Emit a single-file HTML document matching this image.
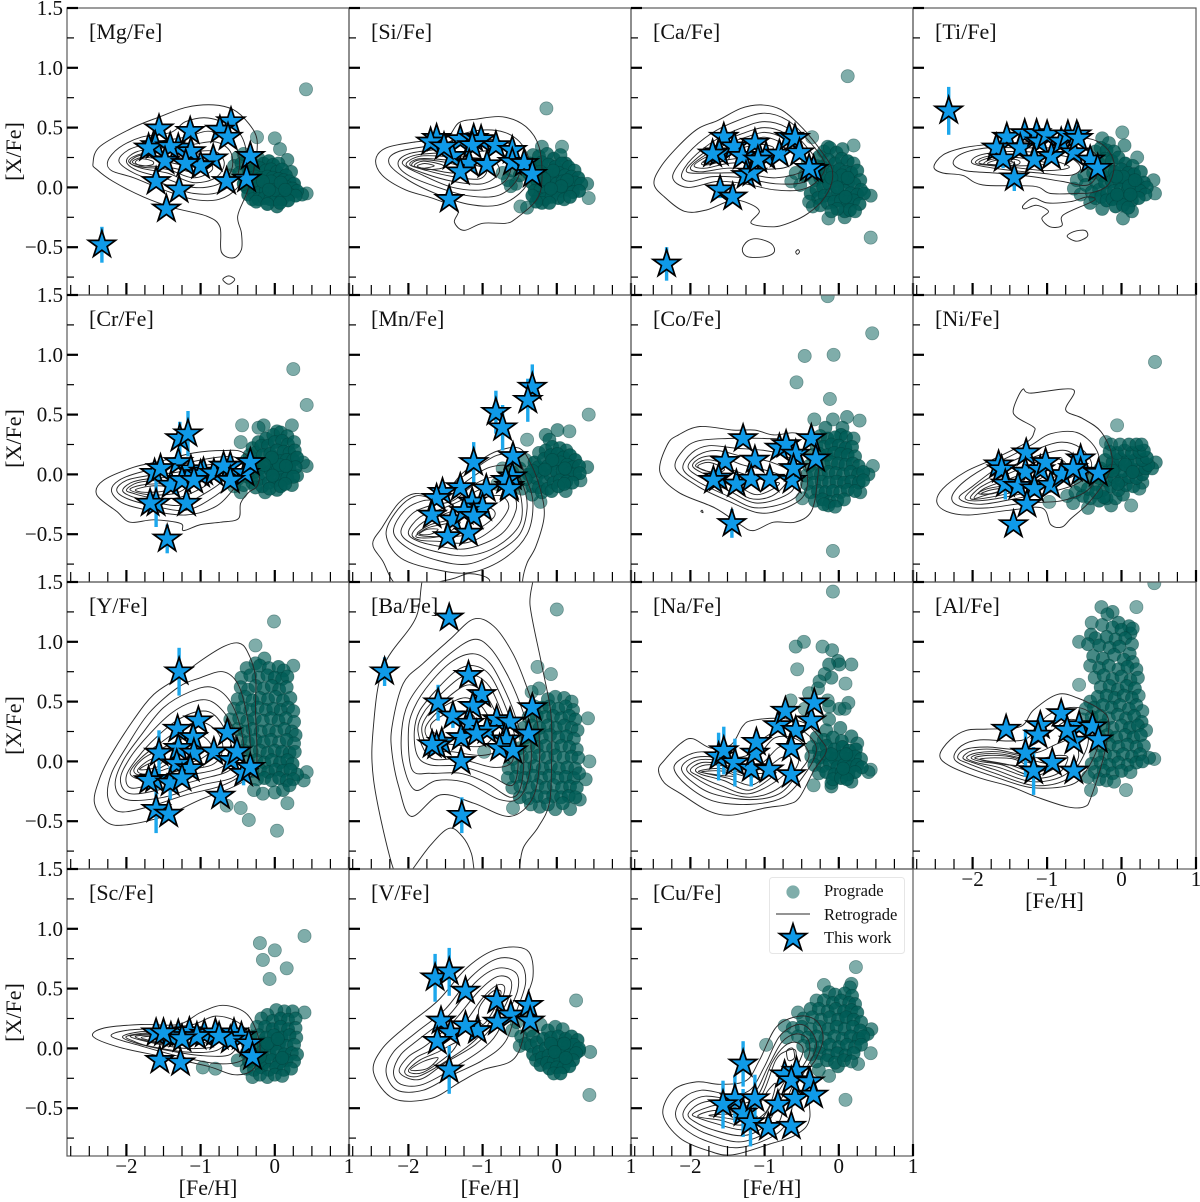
<!DOCTYPE html>
<html lang="en">
<head>
<meta charset="utf-8">
<title>Abundance ratios versus metallicity</title>
<style>
html,body{margin:0;padding:0;background:#fff;}
svg{display:block;font-family:"Liberation Serif",serif;}
</style>
</head>
<body>
<svg id="chart" xmlns="http://www.w3.org/2000/svg" width="1200" height="1202" viewBox="0 0 1200 1202">
<rect x="0" y="0" width="1200" height="1202" fill="#fff"/>
<defs id="defs"></defs>
</svg>
<script>
const xMajorTicks=[-2,-1,0,1];
const xMinorTicks=[-2.75,-2.5,-2.25,-1.75,-1.5,-1.25,-.75,-.5,-.25,.25,.5,.75];
const xTickLabels=["\u22122","\u22121","0","1"];
const yMajorTicks=[1.5,1,.5,0,-.5];
const yMinorTicks=[1.25,.75,.25,-.25,-.75];
const yTickLabels=["1.5","1.0","0.5","0.0","\u22120.5"];

const mgStars=[[-2.33,-.48,.15],[-1.56,.49,.04],[-1.14,.47,.05],[-.59,.55,.05],[-.74,.48,.05],[-.63,.42,.05],[-1.61,.35,.05],[-1.7,.33,.04],[-1.3,.33,.05],[-1.41,.34,.04],[-1.13,.3,.05],[-1.48,.22,.04],[-.83,.24,.05],[-1,.18,.05],[-.33,.26,.05],[-.38,.07,.05],[-.65,.05,.05],[-1.6,.05,.05],[-1.29,-.02,.05],[-1.46,-.18,.05],[-1.2,.2,.05]];
const mgPoints=[[.42,.82],[0,.41],[-.24,.42],[.07,.32],[.17,.23],[.22,.13],[.43,-.05],[.37,-.06],[.03,-.16],[-.3,.2],[-.22,.24],[-.15,.2],[-.08,.22],[-.02,.19],[.05,.2],[-.35,.13],[-.28,.15],[-.2,.16],[-.12,.14],[-.05,.15],[.03,.13],[.1,.15],[.15,.1],[-.4,.06],[-.33,.08],[-.26,.09],[-.18,.08],[-.1,.09],[-.03,.08],[.05,.07],[.12,.06],[.2,.05],[.26,.03],[-.38,0],[-.3,.02],[-.22,.03],[-.14,.02],[-.06,.03],[.02,.01],[.09,.02],[.17,0],[.24,-.01],[.3,-.03],[-.36,-.06],[-.28,-.05],[-.2,-.04],[-.12,-.03],[-.04,-.04],[.04,-.05],[.12,-.04],[.2,-.06],[.28,-.07],[-.3,-.1],[-.22,-.1],[-.14,-.09],[-.06,-.1],[.02,-.1],[.1,-.1],[.18,-.11],[-.25,-.12],[-.1,-.14],[.07,-.13],[-.5,.25],[-.55,.18],[-.6,.1],[-.45,.2],[-.42,.28],[-.48,.12],[-.42,.03],[-.05,.05],[0,-.02],[-.16,.05],[.08,.04],[-.08,-.02],[.14,-.02]];
const mgLoops=[
[[-2.45,.2],[-2.36,.34],[-1.91,.5],[-1.55,.59],[-1.19,.67],[-.83,.69],[-.56,.65],[-.36,.54],[-.24,.4],[-.27,.18],[-.38,-.05],[-.5,-.24],[-.45,-.38],[-.45,-.52],[-.56,-.59],[-.72,-.54],[-.74,-.33],[-.92,-.24],[-1.37,-.17],[-1.77,-.08],[-2.18,.05],[-2.4,.15]],
[[-.7,-.77],[-.62,-.74],[-.54,-.77],[-.62,-.81]],
[[-2.25,.22],[-2.1,.33],[-1.8,.42],[-1.4,.46],[-1.2,.55],[-.9,.58],[-.55,.5],[-.4,.35],[-.4,.15],[-.5,0],[-.75,-.1],[-1.1,-.1],[-1.5,-.02],[-1.9,.08],[-2.2,.14]],
[[-2.1,.22],[-1.95,.32],[-1.6,.38],[-1.2,.42],[-.9,.47],[-.6,.42],[-.48,.25],[-.52,.08],[-.75,-.04],[-1.1,-.05],[-1.5,.03],[-1.9,.12]],
[[-2,.22],[-1.85,.3],[-1.5,.33],[-1.1,.36],[-.8,.38],[-.6,.3],[-.58,.15],[-.75,.03],[-1.1,0],[-1.5,.08],[-1.85,.14]],
[[-1.97,.22],[-1.8,.28],[-1.45,.29],[-1.1,.3],[-.8,.3],[-.68,.2],[-.8,.08],[-1.1,.04],[-1.45,.12],[-1.8,.16]],
[[-1.95,.21],[-1.8,.27],[-1.5,.26],[-1.15,.24],[-.9,.22],[-.85,.14],[-1.1,.08],[-1.45,.15],[-1.8,.17]],
[[-1.92,.21],[-1.8,.25],[-1.6,.24],[-1.35,.2],[-1.1,.17],[-1.05,.12],[-1.45,.17],[-1.75,.18]],
[[-1.88,.21],[-1.8,.24],[-1.65,.22],[-1.65,.19],[-1.8,.18]]];

const siStars=[[-1.62,.41,.04],[-1.7,.38,.04],[-1.3,.4,.04],[-1.12,.41,.04],[-1.02,.4,.04],[-1.14,.35,.04],[-.82,.35,.04],[-1.41,.26,.04],[-.6,.31,.04],[-.6,.21,.04],[-1.18,.2,.04],[-.94,.19,.04],[-1.3,.13,.04],[-.44,.2,.04],[-.33,.11,.04],[-1.45,-.1,.04],[-1.52,.34,.04]];
const siPoints=[[-.14,.66],[.07,.34],[-.2,.34],[.43,-.09],[.41,.03],[-.49,-.16],[-.4,-.17],[-.73,.12],[-.66,.06],[-.6,.14],[-.55,.03],[-.5,.1],[-.62,.01],[-.44,.17],[-.32,.27],[-.24,.26],[-.13,.28],[-.04,.24],[.05,.27],[.12,.2],[-.36,.2],[-.28,.18],[-.2,.21],[-.11,.19],[-.02,.17],[.07,.2],[.16,.17],[.24,.14],[-.38,.12],[-.3,.1],[-.22,.13],[-.14,.11],[-.05,.1],[.03,.12],[.11,.1],[.2,.09],[.29,.08],[-.34,.04],[-.26,.05],[-.18,.03],[-.09,.05],[0,.03],[.08,.05],[.16,.02],[.25,.04],[.33,.03],[-.3,-.03],[-.22,-.02],[-.13,-.04],[-.04,-.02],[.05,-.03],[.13,-.02],[.22,-.04],[.3,-.03],[-.25,-.09],[-.16,-.1],[-.07,-.08],[.02,-.09],[.1,-.1],[.18,-.08],[-.2,-.13],[-.1,-.13],[-.28,-.12],[-.33,-.07],[-.05,.14],[.14,.06],[-.17,.07],[.06,.01],[-.08,-.01]];
const siLoops=[
[[-2.44,.23],[-2.3,.33],[-1.9,.38],[-1.5,.41],[-1.32,.54],[-1.09,.57],[-.73,.59],[-.42,.51],[-.24,.34],[-.2,.06],[-.28,-.11],[-.55,-.26],[-.69,-.3],[-1,-.3],[-1.25,-.36],[-1.38,-.29],[-1.34,-.18],[-1.68,-.09],[-2.04,-.02],[-2.35,.1]],
[[-2.26,.2],[-2.13,.3],[-1.5,.37],[-1.3,.44],[-1,.48],[-.7,.46],[-.5,.38],[-.38,.25],[-.35,.1],[-.5,-.05],[-.8,-.15],[-1.2,-.14],[-1.6,-.06],[-2,.06]],
[[-2.14,.2],[-2,.28],[-1.6,.32],[-1.2,.36],[-.9,.4],[-.6,.35],[-.5,.2],[-.55,.05],[-.8,-.07],[-1.2,-.07],[-1.6,0],[-2,.1]],
[[-2.08,.2],[-1.9,.27],[-1.5,.29],[-1.1,.3],[-.8,.3],[-.62,.2],[-.7,.05],[-1,-.02],[-1.4,0],[-1.8,.1]],
[[-2.03,.19],[-1.85,.26],[-1.5,.26],[-1.15,.25],[-.85,.22],[-.78,.12],[-1,.03],[-1.4,.05],[-1.8,.12]],
[[-1.98,.19],[-1.85,.24],[-1.5,.23],[-1.2,.2],[-.95,.15],[-1.05,.07],[-1.4,.09],[-1.75,.14]],
[[-1.95,.18],[-1.85,.23],[-1.5,.21],[-1.2,.15],[-1.4,.12],[-1.7,.15]],
[[-1.92,.18],[-1.8,.22],[-1.55,.19],[-1.55,.16],[-1.75,.15]],
[[-1.88,.18],[-1.78,.2],[-1.65,.18],[-1.8,.16]]];

const caStars=[[-2.32,-.64,.14],[-1.55,.42,.04],[-1.61,.29,.04],[-1.7,.28,.04],[-1.41,.34,.04],[-1.3,.26,.04],[-1.13,.37,.04],[-.98,.26,.04],[-.8,.28,.04],[-.67,.42,.04],[-.59,.41,.04],[-.53,.29,.04],[-1.25,.1,.04],[-1.17,.12,.04],[-1.09,.23,.04],[-.34,.15,.04],[-.4,.16,.04],[-1.6,-.02,.07],[-1.43,-.08,.04]];
const caPoints=[[.12,.93],[.2,.35],[-.36,.42],[.43,-.42],[-.14,-.26],[.08,-.25],[.43,-.07],[-.15,.34],[-.64,.05],[-.58,.12],[-.52,.02],[-.46,.1],[-.42,.2],[-.38,-.05],[-.32,.06],[-.3,.18],[-.26,.26],[-.2,.3],[-.12,.33],[-.03,.29],[.05,.32],[-.22,.17],[-.14,.23],[-.05,.2],[.04,.24],[.12,.22],[.2,.2],[-.25,.08],[-.17,.11],[-.08,.13],[.01,.15],[.09,.13],[.17,.12],[.25,.14],[.29,.06],[-.3,-.02],[-.21,0],[-.13,.03],[-.04,.05],[.05,.06],[.13,.04],[.21,.03],[.3,-.02],[-.28,-.09],[-.19,-.07],[-.1,-.06],[-.01,-.04],[.08,-.03],[.16,-.05],[.25,-.06],[.34,-.05],[-.4,-.12],[-.35,-.16],[-.25,-.15],[-.15,-.13],[-.06,-.12],[.03,-.11],[.12,-.12],[.2,-.11],[.28,-.14],[.08,-.2],[.15,-.19],[.22,-.2],[-.02,-.18],[-.1,-.2],[.04,.1],[-.1,.08],[.12,.08],[-.02,0],[.09,-.08]];
const caLoops=[
[[-2.49,.03],[-2.4,.17],[-2.17,.34],[-1.9,.49],[-1.63,.56],[-1.32,.66],[-1.05,.69],[-.78,.65],[-.51,.51],[-.28,.34],[-.1,.17],[-.1,.03],[-.22,-.11],[-.42,-.22],[-.64,-.29],[-.87,-.33],[-1.18,-.3],[-1.07,-.2],[-1.23,-.13],[-1.45,-.11],[-1.79,-.19],[-2.08,-.2],[-2.35,-.08]],
[[-1.3,-.52],[-1.23,-.45],[-1.09,-.43],[-.91,-.47],[-.87,-.54],[-1,-.58],[-1.23,-.58]],
[[-.58,-.54],[-.55,-.52],[-.53,-.54],[-.56,-.56]],
[[-2.24,.09],[-2.04,.28],[-1.72,.45],[-1.36,.56],[-1,.62],[-.69,.56],[-.42,.4],[-.19,.2],[-.28,.06],[-.51,-.02],[-.87,-.02],[-1.27,.03],[-1.63,.05],[-2.04,0]],
[[-2.12,.1],[-1.98,.24],[-1.65,.4],[-1.3,.5],[-1,.55],[-.7,.5],[-.45,.35],[-.3,.2],[-.45,.05],[-.85,.03],[-1.3,.08],[-1.7,.09],[-2,.05]],
[[-2.05,.13],[-1.9,.25],[-1.6,.37],[-1.3,.45],[-1,.5],[-.72,.45],[-.5,.3],[-.45,.15],[-.85,.08],[-1.3,.12],[-1.7,.12]],
[[-2,.16],[-1.85,.25],[-1.55,.35],[-1.25,.42],[-1,.46],[-.75,.41],[-.55,.28],[-.7,.17],[-1.1,.15],[-1.5,.16],[-1.85,.13]],
[[-1.95,.18],[-1.8,.25],[-1.5,.33],[-1.2,.39],[-1,.42],[-.78,.37],[-.75,.28],[-1.1,.22],[-1.5,.2],[-1.8,.16]],
[[-1.85,.2],[-1.7,.26],[-1.4,.31],[-1.1,.36],[-.88,.33],[-1.1,.27],[-1.5,.23],[-1.75,.19]],
[[-1.82,.21],[-1.7,.24],[-1.5,.27],[-1.5,.23],[-1.72,.2]]];

const tiStars=[[-2.32,.64,.2],[-1.54,.42,.04],[-1.68,.33,.04],[-1.59,.24,.08],[-1.3,.45,.04],[-1.36,.33,.04],[-1.14,.45,.04],[-1.1,.38,.04],[-1,.44,.04],[-1.17,.23,.04],[-.94,.26,.04],[-.81,.38,.04],[-.64,.29,.04],[-.72,.44,.04],[-.6,.44,.04],[-.58,.41,.04],[-.42,.23,.04],[-.32,.16,.04],[-1.44,.08,.11]];
const tiPoints=[[.01,.46],[.04,.35],[-.26,.41],[-.17,.37],[.21,.25],[.43,.06],[.45,-.05],[.02,-.26],[-.26,-.18],[-.42,-.13],[.14,-.2],[-.64,-.01],[-.6,.06],[-.55,-.06],[-.5,.1],[-.48,.02],[-.42,.2],[-.35,.3],[-.28,.33],[-.2,.31],[-.1,.3],[-.38,.12],[-.3,.2],[-.22,.24],[-.13,.22],[-.04,.25],[.05,.2],[.15,.18],[-.34,.04],[-.26,.1],[-.18,.14],[-.09,.13],[0,.15],[.09,.12],[.17,.11],[.26,.13],[-.4,-.04],[-.3,-.02],[-.22,.04],[-.13,.05],[-.04,.06],[.05,.04],[.13,.05],[.22,.03],[.3,.04],[.34,0],[-.35,-.09],[-.27,-.08],[-.19,-.05],[-.1,-.03],[-.01,-.02],[.08,-.03],[.16,-.04],[.25,-.03],[.32,-.06],[-.2,-.11],[-.12,-.1],[-.03,-.09],[.06,-.1],[.14,-.11],[.23,-.09],[-.08,-.16],[.02,-.15],[.09,-.17],[.02,.09],[-.07,.09],[.1,.01],[-.06,-.06],[.12,-.06],[.18,.06]];
const tiLoops=[
[[-2.52,.17],[-2.4,.27],[-2.13,.33],[-1.77,.36],[-1.3,.38],[-.9,.4],[-.46,.41],[-.22,.34],[-.1,.2],[-.17,.03],[-.37,-.04],[-.6,-.05],[-.96,-.05],[-1.18,.01],[-1.86,.02],[-2.13,.1],[-2.4,.12]],
[[-1.32,-.15],[-1.18,-.09],[-1,-.13],[-.69,-.12],[-.46,-.08],[-.37,-.11],[-.78,-.23],[-.8,-.32],[-.96,-.33],[-1.07,-.26],[-.98,-.2],[-1.14,-.15],[-1.3,-.18]],
[[-.73,-.41],[-.64,-.37],[-.49,-.36],[-.46,-.41],[-.6,-.45]],
[[-2.26,.2],[-2.15,.28],[-1.8,.33],[-1.3,.33],[-.9,.33],[-.55,.33],[-.35,.28],[-.3,.15],[-.45,.02],[-.8,.05],[-1.2,.09],[-1.7,.12],[-2.1,.14]],
[[-2,.2],[-1.9,.27],[-1.5,.3],[-1.1,.29],[-.7,.25],[-.55,.16],[-.7,.1],[-1.1,.12],[-1.6,.15]],
[[-1.95,.2],[-1.8,.26],[-1.4,.27],[-1,.24],[-.7,.17],[-1,.14],[-1.5,.17]],
[[-1.9,.2],[-1.75,.25],[-1.4,.25],[-1,.2],[-1.4,.18]],
[[-1.85,.2],[-1.7,.24],[-1.4,.23],[-1.4,.19],[-1.7,.18]],
[[-1.8,.2],[-1.65,.23],[-1.45,.21],[-1.65,.19]]];

const crStars=[[-1.28,.3,.14],[-1.17,.34,.19],[-1.3,.1,.05],[-1.62,.01,.05],[-1.54,.05,.05],[-1.13,.04,.05],[-1.4,-.09,.05],[-1.25,-.05,.05],[-.96,.02,.05],[-1,0,.05],[-.82,.01,.05],[-.6,.07,.05],[-.69,.07,.05],[-.4,.01,.05],[-.33,.1,.05],[-.6,-.05,.05],[-1.6,-.24,.2],[-1.68,-.24,.05],[-1.19,-.24,.05],[-1.45,-.54,.12],[-1.09,-.05,.05]];
const crPoints=[[.25,.88],[.43,.58],[-.44,.41],[-.15,.41],[-.22,.39],[.23,.41],[-.46,.27],[.43,.07],[.38,.1],[.3,-.01],[.23,-.09],[-.13,-.15],[.03,-.13],[-.46,-.15],[.03,.36],[-.55,-.1],[-.5,-.04],[-.42,-.09],[-.38,.12],[-.3,.22],[-.22,.27],[-.12,.3],[-.02,.33],[.08,.35],[.17,.32],[-.34,.16],[-.26,.18],[-.18,.24],[-.09,.24],[0,.27],[.1,.28],[.18,.25],[.26,.27],[-.33,.06],[-.25,.1],[-.16,.16],[-.06,.17],[.03,.2],[.12,.19],[.2,.18],[.27,.2],[-.36,-.02],[-.27,.02],[-.2,.05],[-.1,.09],[-.01,.12],[.08,.11],[.16,.12],[.25,.12],[.3,.14],[-.3,-.07],[-.22,-.04],[-.13,0],[-.05,.03],[.04,.04],[.12,.03],[.2,.05],[.28,.06],[-.26,-.11],[-.17,-.1],[-.08,-.07],[0,-.05],[.09,-.05],[.17,-.03],[.25,-.02],[-.07,-.12],[.08,-.1],[.14,-.08],[.06,.08],[-.04,.14],[.15,.07],[-.14,.08],[-.03,-.01]];
const crLoops=[
[[-2.4,-.17],[-2.31,-.05],[-1.9,.06],[-1.54,.11],[-1.09,.18],[-.69,.2],[-.42,.18],[-.22,.01],[-.24,-.1],[-.35,-.15],[-.46,-.24],[-.49,-.37],[-.73,-.4],[-1,-.42],[-1.23,-.47],[-1.27,-.41],[-1.63,-.38],[-1.95,-.4],[-2.13,-.31]],
[[-2.2,-.14],[-2.1,-.05],[-1.8,.02],[-1.4,.06],[-1,.12],[-.6,.15],[-.45,.1],[-.4,0],[-.55,-.12],[-.8,-.27],[-1.2,-.34],[-1.7,-.3],[-2.05,-.24]],
[[-2.13,-.13],[-2,-.05],[-1.7,-.01],[-1.3,.02],[-.9,.08],[-.6,.08],[-.55,-.03],[-.8,-.18],[-1.2,-.3],[-1.65,-.26],[-2,-.2]],
[[-2.05,-.13],[-1.9,-.06],[-1.6,-.03],[-1.2,-.02],[-.8,.03],[-.7,-.05],[-1,-.18],[-1.3,-.26],[-1.7,-.22],[-1.95,-.18]],
[[-2,-.13],[-1.85,-.07],[-1.55,-.05],[-1.2,-.06],[-.9,-.07],[-1.1,-.15],[-1.35,-.2],[-1.7,-.19],[-1.9,-.16]],
[[-1.95,-.13],[-1.8,-.09],[-1.5,-.08],[-1.2,-.1],[-1.35,-.16],[-1.7,-.17]],
[[-1.88,-.13],[-1.7,-.1],[-1.5,-.1],[-1.5,-.14],[-1.75,-.15]]];

const mnStars=[[-.33,.73,.19],[-.39,.62,.18],[-.82,.52,.18],[-.73,.39,.19],[-.59,.15,.1],[-1.12,.1,.17],[-.64,-.1,.05],[-.6,-.02,.05],[-.69,-.05,.05],[-1.3,-.11,.05],[-.95,-.12,.05],[-1.54,-.15,.05],[-1.62,-.2,.05],[-1.14,-.23,.05],[-1,-.28,.05],[-1.68,-.34,.05],[-1.4,-.38,.05],[-1.25,-.31,.05],[-1.12,-.35,.05],[-1.47,-.52,.05],[-1.19,-.49,.05],[-.64,-.12,.05]];
const mnPoints=[[.43,.5],[.01,.37],[.17,.36],[-.15,.33],[-.1,.29],[-.4,.29],[.41,.06],[.32,-.05],[.12,-.14],[-.22,-.23],[-.33,-.17],[-.73,.05],[-.8,-.08],[-.6,.02],[-.55,-.08],[-.5,.05],[-.47,-.12],[-.42,.12],[-.38,0],[-.33,-.1],[-.3,.1],[-.24,.18],[-.15,.2],[-.06,.23],[.04,.22],[.13,.2],[-.25,.06],[-.17,.13],[-.08,.16],[.01,.17],[.09,.14],[.18,.16],[.25,.12],[-.28,-.03],[-.2,.02],[-.12,.07],[-.03,.09],[.05,.1],[.14,.08],[.22,.06],[.3,.07],[-.24,-.11],[-.16,-.06],[-.08,-.01],[0,.02],[.08,.03],[.17,.01],[.25,0],[.31,.01],[-.2,-.15],[-.12,-.12],[-.04,-.07],[.04,-.05],[.13,-.06],[.21,-.07],[-.07,-.14],[.02,-.1],[.1,-.08],[-.33,.03],[-.42,-.04],[-.06,.12],[.11,.05],[-.16,.04]];
const mnLoops=[
[[-2.48,-.58],[-2.35,-.44],[-2.13,-.24],[-1.9,-.16],[-1.59,-.2],[-1.45,-.12],[-1.27,.01],[-1,.13],[-.78,.2],[-.51,.22],[-.35,.09],[-.22,-.13],[-.17,-.35],[-.28,-.6],[-.4,-.74],[-.46,-.88],[-.46,-1.02],[-.96,-1.02],[-.91,-.88],[-1.18,-.83],[-1.45,-.88],[-2.1,-.94],[-2.35,-.72]],
[[-2.3,-.5],[-2.15,-.3],[-1.9,-.18],[-1.6,-.2],[-1.4,-.08],[-1.1,.05],[-.8,.16],[-.55,.15],[-.4,-.05],[-.32,-.25],[-.4,-.5],[-.7,-.7],[-1.15,-.82],[-1.6,-.8],[-2.1,-.7]],
[[-2.2,-.48],[-2.05,-.3],[-1.8,-.22],[-1.5,-.2],[-1.2,-.05],[-.9,.06],[-.6,.06],[-.45,-.1],[-.4,-.28],[-.5,-.5],[-.8,-.65],[-1.2,-.75],[-1.6,-.72],[-2,-.62]],
[[-2.1,-.48],[-1.95,-.33],[-1.7,-.26],[-1.4,-.22],[-1.1,-.08],[-.85,-.02],[-.6,-.05],[-.48,-.2],[-.5,-.42],[-.8,-.6],[-1.2,-.68],[-1.6,-.65],[-1.95,-.58]],
[[-2,-.48],[-1.85,-.36],[-1.6,-.3],[-1.3,-.22],[-1.05,-.13],[-.8,-.1],[-.6,-.15],[-.55,-.3],[-.75,-.5],[-1.2,-.62],[-1.6,-.6],[-1.9,-.55]],
[[-1.95,-.5],[-1.8,-.4],[-1.55,-.34],[-1.25,-.27],[-1,-.2],[-.75,-.18],[-.65,-.28],[-.85,-.45],[-1.2,-.57],[-1.6,-.56],[-1.85,-.55]],
[[-1.88,-.5],[-1.7,-.42],[-1.45,-.38],[-1.15,-.3],[-.9,-.28],[-.85,-.36],[-1.2,-.5],[-1.6,-.52]],
[[-1.9,-.52],[-1.75,-.45],[-1.55,-.42],[-1.3,-.4],[-1.5,-.5],[-1.7,-.53]],
[[-1.85,-.5],[-1.75,-.46],[-1.6,-.46],[-1.7,-.5]]];

const coStars=[[-1.29,.3,.04],[-1.53,.11,.04],[-1.13,.12,.04],[-.8,.22,.04],[-.71,.25,.04],[-.58,.17,.04],[-.37,.3,.04],[-.31,.13,.04],[-1.62,-.03,.04],[-1.69,-.05,.04],[-1.38,-.08,.04],[-1.18,-.04,.04],[-.93,-.04,.04],[-.63,-.05,.04],[-.61,.05,.04],[-1.44,-.41,.12]];
const coPoints=[[-.15,1.49],[.45,1.18],[-.46,.99],[-.07,1],[-.57,.77],[-.12,.63],[.11,.48],[.28,.45],[-.08,.46],[-.33,.46],[-.18,.39],[.05,.39],[.03,.33],[-.08,-.64],[.46,.07],[.4,0],[.29,-.15],[-.49,-.2],[-.25,.32],[-.15,.3],[-.05,.31],[.1,.31],[.2,.3],[-.3,.24],[-.2,.23],[-.1,.25],[0,.24],[.09,.22],[.18,.23],[-.36,.16],[-.26,.17],[-.16,.16],[-.06,.18],[.03,.17],[.12,.16],[.22,.15],[-.4,.07],[-.3,.09],[-.2,.08],[-.1,.1],[-.01,.09],[.09,.08],[.19,.09],[.27,.07],[-.44,-.01],[-.34,.01],[-.24,0],[-.14,.02],[-.04,.01],[.06,0],[.16,.02],[.26,0],[.33,.02],[-.43,-.08],[-.33,-.07],[-.23,-.06],[-.13,-.07],[-.03,-.06],[.07,-.07],[.17,-.06],[.27,-.07],[.33,-.05],[-.38,-.15],[-.28,-.14],[-.18,-.15],[-.08,-.14],[.02,-.15],[.12,-.13],[.22,-.14],[-.32,-.22],[-.22,-.21],[-.12,-.23],[-.02,-.22],[.07,-.21],[-.14,-.26],[-.2,-.25],[-.05,-.27]];
const coLoops=[
[[-2.41,.02],[-2.31,.25],[-2.16,.33],[-1.87,.4],[-1.42,.37],[-1.13,.37],[-.88,.33],[-.54,.34],[-.29,.19],[-.29,-.06],[-.37,-.31],[-.59,-.4],[-.88,-.4],[-1.15,-.47],[-1.33,-.42],[-1.67,-.28],[-2.16,-.15]],
[[-1.86,-.31],[-1.84,-.3],[-1.83,-.32]],
[[-2.2,.05],[-2.1,.2],[-1.9,.28],[-1.5,.3],[-1,.3],[-.7,.28],[-.5,.15],[-.42,-.05],[-.5,-.2],[-.8,-.3],[-1.1,-.32],[-1.5,-.22],[-1.9,-.1]],
[[-2.1,.05],[-1.98,.18],[-1.75,.24],[-1.4,.22],[-1,.2],[-.7,.15],[-.5,0],[-.6,-.2],[-1.1,-.28],[-1.5,-.18],[-1.9,-.06]],
[[-2.03,.06],[-1.9,.16],[-1.65,.2],[-1.3,.15],[-.9,.1],[-.62,0],[-.65,-.15],[-1.1,-.24],[-1.5,-.13],[-1.85,-.03]],
[[-1.97,.07],[-1.85,.14],[-1.6,.15],[-1.3,.08],[-.9,.02],[-.7,-.05],[-.9,-.18],[-1.2,-.2],[-1.5,-.08],[-1.8,0]],
[[-1.93,.07],[-1.8,.12],[-1.6,.1],[-1.4,.03],[-1,-.05],[-.8,-.08],[-1.1,-.17],[-1.4,-.08],[-1.75,.02]],
[[-1.9,.07],[-1.75,.1],[-1.55,.05],[-1.6,.02],[-1.8,.03]]];

const niStars=[[-1.28,.18,.04],[-1.65,.08,.04],[-1.61,.04,.04],[-1.29,.02,.04],[-1.09,.04,.04],[-1.56,-.08,.13],[-1.39,-.1,.04],[-1.17,-.12,.04],[-.95,-.09,.04],[-.8,0,.04],[-.55,.13,.04],[-.55,.02,.04],[-.65,.05,.04],[-.31,.01,.04],[-1.02,.1,.04],[-1.27,-.25,.04],[-1.45,-.42,.04]];
const niPoints=[[.45,.94],[-.06,.41],[.13,-.26],[.46,.1],[.41,.05],[.28,-.07],[-.97,-.23],[-.65,-.24],[-.45,-.28],[-.14,-.26],[-.21,.27],[-.73,-.18],[-.62,-.15],[-.52,-.18],[-.42,-.2],[-.3,-.22],[-.2,-.2],[-.08,-.2],[.02,-.17],[-.55,-.09],[-.45,-.12],[-.35,-.08],[-.25,-.13],[-.14,-.1],[-.04,-.13],[.06,-.09],[.16,-.1],[.24,-.12],[-.4,-.02],[-.3,-.03],[-.2,-.05],[-.1,-.02],[0,-.05],[.1,-.02],[.2,-.03],[.28,0],[-.28,.05],[-.18,.03],[-.08,.06],[.02,.03],[.12,.05],[.22,.04],[.32,.05],[.36,.08],[-.22,.12],[-.12,.1],[-.02,.13],[.08,.11],[.18,.12],[.28,.12],[.34,.14],[-.16,.19],[-.06,.18],[.04,.2],[.14,.18],[.24,.19],[.3,.2],[-.14,.25],[-.02,.25],[.1,.25],[.2,.25],[.27,.25],[.05,.08],[-.05,-.08],[.15,.02],[-.12,.03],[-.24,-.19],[-.34,-.15]];
const niLoops=[
[[-2.48,-.23],[-2.4,-.12],[-2.1,.02],[-1.71,.13],[-1.27,.27],[-1.17,.36],[-1.19,.4],[-1.41,.48],[-1.45,.55],[-1.33,.71],[-1.22,.68],[-.65,.71],[-.75,.54],[-.53,.47],[-.28,.36],[-.13,.16],[-.18,-.01],[-.43,-.23],[-.68,-.37],[-.8,-.44],[-.95,-.42],[-1.07,-.28],[-1.51,-.3],[-2.05,-.34],[-2.35,-.31]],
[[-2.28,-.2],[-2.15,-.08],[-1.85,.05],[-1.5,.15],[-1.2,.25],[-.95,.34],[-.6,.35],[-.35,.22],[-.3,.05],[-.45,-.13],[-.8,-.22],[-1.3,-.24],[-1.8,-.28],[-2.15,-.27]],
[[-2.18,-.2],[-2,-.1],[-1.7,.04],[-1.4,.13],[-1.1,.22],[-.8,.27],[-.55,.22],[-.4,.08],[-.55,-.06],[-.9,-.14],[-1.4,-.2],[-1.9,-.25]],
[[-2.1,-.2],[-1.95,-.1],[-1.7,0],[-1.4,.09],[-1.05,.17],[-.75,.2],[-.6,.12],[-.62,0],[-1,-.1],[-1.4,-.17],[-1.9,-.22]],
[[-2.03,-.2],[-1.9,-.11],[-1.65,-.03],[-1.35,.05],[-1.05,.12],[-.8,.12],[-.75,.03],[-1.05,-.06],[-1.4,-.14],[-1.85,-.2]],
[[-1.98,-.2],[-1.85,-.12],[-1.6,-.06],[-1.3,.01],[-1.05,.05],[-1.05,-.02],[-1.4,-.11],[-1.8,-.17]],
[[-1.92,-.16],[-1.8,-.12],[-1.55,-.09],[-1.3,-.04],[-1.45,-.1],[-1.75,-.16]],
[[-1.88,-.16],[-1.75,-.13],[-1.6,-.12],[-1.72,-.16]]];

const yStars=[[-1.29,.75,.2],[-1.03,.34,.04],[-1.31,.27,.04],[-1.1,.2,.04],[-.64,.24,.04],[-1.3,.11,.04],[-1.56,.07,.19],[-1.09,.07,.04],[-.82,.08,.04],[-1.32,-.02,.04],[-1.14,-.06,.04],[-.59,.01,.04],[-.51,.08,.04],[-1.62,-.15,.04],[-1.7,-.16,.04],[-1.41,-.18,.14],[-1.25,-.14,.04],[-.42,-.1,.1],[-.33,-.05,.04],[-.73,-.29,.04],[-1.6,-.4,.2],[-1.43,-.44,.04]];
const yPoints=[[-.01,1.17],[-.26,.97],[.25,.8],[-.14,.86],[-.26,.82],[.17,-.35],[.03,-.58],[-.35,-.49],[-.46,-.39],[-.65,-.37],[.43,-.09],[.39,-.16],[.3,-.11],
[-.38,.78],[-.2,.8],[-.08,.78],[.05,.79],[.12,.76],[-.45,.7],[-.33,.72],[-.22,.7],[-.1,.72],[0,.7],[.1,.69],[.17,.71],[-.46,.62],[-.36,.6],[-.26,.63],[-.15,.61],[-.04,.63],[.06,.6],[.16,.62],[-.5,.52],[-.4,.54],[-.3,.51],[-.2,.53],[-.09,.52],[.01,.54],[.11,.51],[.21,.53],[-.55,.44],[-.44,.45],[-.33,.43],[-.23,.45],[-.12,.43],[-.02,.44],[.08,.43],[.18,.45],[.25,.42],[-.6,.35],[-.48,.36],[-.37,.34],[-.27,.36],[-.16,.34],[-.05,.36],[.05,.34],[.15,.36],[.26,.33],[-.62,.26],[-.5,.27],[-.4,.25],[-.3,.27],[-.19,.25],[-.08,.26],[.02,.25],[.13,.27],[.23,.25],[.28,.22],[-.46,.18],[-.36,.16],[-.26,.18],[-.15,.16],[-.05,.18],[.06,.16],[.16,.18],[.26,.15],[-.42,.09],[-.31,.08],[-.2,.09],[-.1,.07],[0,.09],[.1,.08],[.2,.07],[.27,.08],[-.36,0],[-.25,.01],[-.14,-.01],[-.04,.01],[.07,-.01],[.17,.01],[.24,-.02],[-.3,-.08],[-.2,-.07],[-.09,-.09],[.01,-.07],[.11,-.08],[.21,-.07],[-.24,-.15],[-.14,-.14],[-.04,-.16],[.06,-.14],[.16,-.16],[.25,-.15],[-.28,-.24],[-.16,-.27],[0,-.26],[.11,-.24],[.2,-.2]];
const yLoops=[
[[-2.43,-.35],[-2.37,-.16],[-2.22,.04],[-1.9,.35],[-1.63,.56],[-1.3,.7],[-1,.84],[-.69,.96],[-.49,.99],[-.37,.92],[-.26,.71],[-.26,.43],[-.24,.07],[-.28,-.1],[-.55,-.21],[-1,-.32],[-1.5,-.46],[-2,-.53],[-2.26,-.51]],
[[-2.25,-.3],[-2.2,-.1],[-2,.12],[-1.7,.4],[-1.3,.62],[-1,.7],[-.7,.75],[-.5,.65],[-.38,.4],[-.33,.1],[-.4,-.08],[-.7,-.2],[-1.2,-.28],[-1.7,-.38],[-2.1,-.42]],
[[-2.15,-.2],[-2.05,0],[-1.8,.22],[-1.5,.45],[-1.15,.58],[-.85,.62],[-.6,.5],[-.45,.25],[-.42,.02],[-.55,-.13],[-1,-.2],[-1.5,-.3],[-2,-.32]],
[[-2.08,-.15],[-1.95,.03],[-1.7,.22],[-1.4,.4],[-1.1,.5],[-.85,.5],[-.62,.35],[-.5,.1],[-.6,-.07],[-1,-.15],[-1.5,-.23],[-1.95,-.27]],
[[-2,-.12],[-1.85,.03],[-1.6,.2],[-1.3,.35],[-1,.42],[-.8,.38],[-.62,.2],[-.58,.03],[-.8,-.07],[-1.3,-.13],[-1.7,-.2],[-1.95,-.22]],
[[-1.95,-.1],[-1.8,.03],[-1.55,.15],[-1.25,.28],[-1,.33],[-.78,.25],[-.7,.1],[-.85,-.03],[-1.3,-.08],[-1.75,-.15]],
[[-1.9,-.08],[-1.78,.02],[-1.55,.1],[-1.2,.2],[-1,.22],[-.85,.12],[-1,.02],[-1.4,-.05],[-1.75,-.12]],
[[-1.85,-.08],[-1.72,0],[-1.5,.06],[-1.25,.12],[-1.35,.02],[-1.7,-.1]],
[[-1.82,-.07],[-1.7,-.02],[-1.5,.02],[-1.6,-.05]]];

const baStars=[[-1.45,1.2,.04],[-2.32,.75,.12],[-1.19,.72,.04],[-1.01,.56,.04],[-1.6,.49,.15],[-1.13,.46,.04],[-1.4,.38,.1],[-1.17,.32,.04],[-.81,.35,.04],[-.63,.33,.04],[-.33,.45,.04],[-.38,.23,.04],[-.94,.26,.04],[-1.29,.2,.04],[-1.08,.23,.04],[-1.55,.16,.04],[-1.62,.13,.04],[-1.68,.14,.04],[-.68,.18,.04],[-.77,.11,.04],[-.59,.09,.04],[-1.29,0,.04],[-1.28,-.45,.15]];
const baPoints=[[0,1.27],[-.26,.79],[-.08,.73],[-.24,.61],[-.34,.58],[.42,.36],[.44,0],[.39,-.15],[.31,-.32],[.18,-.4],[-.59,-.39],[-.98,.08],[-.02,-.4],[-.23,-.38],
[-.12,.52],[-.02,.54],[.1,.53],[.2,.5],[-.3,.46],[-.2,.45],[-.1,.46],[.02,.44],[.12,.46],[.22,.43],[-.38,.37],[-.27,.38],[-.16,.37],[-.05,.38],[.06,.36],[.17,.38],[.25,.35],[-.45,.28],[-.34,.3],[-.23,.28],[-.12,.3],[-.01,.28],[.1,.3],[.2,.28],[.28,.26],[-.42,.2],[-.31,.21],[-.2,.2],[-.09,.22],[.02,.2],[.13,.21],[.23,.19],[-.5,.11],[-.38,.13],[-.27,.12],[-.16,.13],[-.05,.11],[.06,.13],[.17,.12],[.27,.1],[-.6,.02],[-.47,.04],[-.35,.03],[-.24,.05],[-.13,.03],[-.02,.05],[.09,.03],[.2,.04],[.29,.03],[-.65,-.06],[-.53,-.05],[-.41,-.06],[-.3,-.04],[-.19,-.06],[-.08,-.04],[.03,-.06],[.14,-.05],[.25,-.06],[-.66,-.14],[-.55,-.13],[-.43,-.14],[-.32,-.12],[-.21,-.14],[-.1,-.12],[.01,-.14],[.12,-.13],[.23,-.14],[.3,-.1],[-.6,-.22],[-.49,-.21],[-.37,-.22],[-.26,-.2],[-.15,-.22],[-.04,-.2],[.07,-.22],[.18,-.21],[.27,-.22],[-.5,-.3],[-.38,-.31],[-.27,-.29],[-.16,-.3],[-.05,-.29],[.06,-.3],[.16,-.29],[.25,-.3],[-.35,-.36],[-.12,-.36],[.08,-.35]];
const baLoops=[
[[-1.73,1.62],[-1.9,1.2],[-2.33,.8],[-2.47,.3],[-2.47,-.15],[-2.25,-.8],[-2.1,-1.02],[-2,-.95],[-1.7,-.7],[-1.45,-.56],[-1.27,-.63],[-1.15,-.77],[-1.1,-.95],[-1,-1.05],[-.5,-1.05],[-.5,-.9],[-.45,-.72],[-.25,-.55],[-.1,-.35],[-.07,0],[-.08,.4],[-.2,.8],[-.36,1.3],[-.36,1.62],[-1,1.8]],
[[-2.22,.29],[-2.07,.65],[-1.8,.82],[-1.44,1.02],[-1.12,1.19],[-.85,1.13],[-.59,.9],[-.41,.63],[-.27,.35],[-.23,.04],[-.32,-.3],[-.63,-.46],[-1.12,-.35],[-1.57,-.28],[-1.96,-.46],[-2.13,-.21],[-2.22,.07]],
[[-2.09,.26],[-2,.49],[-1.75,.71],[-1.44,.9],[-1.12,1.02],[-.9,.95],[-.68,.74],[-.5,.49],[-.36,.21],[-.36,-.07],[-.5,-.3],[-.77,-.32],[-1.21,-.18],[-1.62,-.16],[-1.91,-.24],[-2.07,-.02]],
[[-2,.25],[-1.92,.45],[-1.7,.66],[-1.4,.84],[-1.12,.9],[-.9,.82],[-.72,.62],[-.56,.38],[-.45,.1],[-.48,-.2],[-.62,-.3],[-.95,-.18],[-1.3,-.1],[-1.7,-.1],[-1.95,-.07]],
[[-1.92,.25],[-1.85,.42],[-1.62,.6],[-1.35,.76],[-1.12,.8],[-.9,.72],[-.72,.5],[-.58,.25],[-.52,0],[-.6,-.2],[-.9,-.12],[-1.3,-.04],[-1.7,-.03],[-1.88,.05]],
[[-1.87,.25],[-1.78,.42],[-1.55,.57],[-1.3,.7],[-1.1,.72],[-.9,.62],[-.75,.42],[-.62,.2],[-.6,0],[-.85,-.05],[-1.3,.02],[-1.7,.03]],
[[-1.82,.27],[-1.7,.42],[-1.5,.52],[-1.25,.63],[-1.08,.62],[-.9,.5],[-.75,.28],[-.72,.12],[-1,.05],[-1.4,.08],[-1.7,.1]],
[[-1.77,.28],[-1.6,.42],[-1.4,.5],[-1.2,.53],[-1,.45],[-.85,.25],[-1,.13],[-1.4,.14],[-1.7,.18]],
[[-1.7,.3],[-1.55,.38],[-1.35,.42],[-1.15,.4],[-1.05,.25],[-1.3,.2],[-1.6,.22]]];

const naStars=[[-1.62,.04,.2],[-1.55,.09,.2],[-1.4,-.01,.2],[-1.18,-.06,.15],[-1.13,.07,.04],[-1.11,.16,.04],[-.94,-.07,.04],[-.82,.3,.04],[-.72,.42,.04],[-.58,.26,.04],[-.64,.11,.04],[-.64,-.11,.04],[-.37,.34,.04],[-.33,.49,.04]];
const naPoints=[[-.08,1.42],[-.47,1],[-.58,.96],[-.22,.96],[-.09,.93],[-.01,.84],[.17,.81],[.01,.81],[-.13,.81],[-.56,.77],[-.19,.73],[-.1,.7],[-.26,.67],[.09,.65],[-.28,.61],[-.4,.57],[-.65,.51],[-.15,.51],[.13,.49],[.01,.44],[.08,.44],[-.13,.46],[-.46,.44],[-.13,.35],[.02,.28],[-.17,.26],[.17,.21],[.25,.15],[.43,-.07],[.4,-.09],[-.34,-.2],[-.1,-.21],[-.1,-.18],[.17,-.17],
[-.3,.2],[-.2,.18],[-.08,.2],[.04,.17],[-.36,.12],[-.27,.1],[-.17,.13],[-.06,.1],[.05,.12],[.14,.09],[.23,.1],[-.37,.04],[-.26,.03],[-.16,.05],[-.05,.02],[.04,.04],[.13,.02],[.22,.04],[.3,.02],[-.33,-.03],[-.22,-.04],[-.12,-.02],[-.02,-.05],[.07,-.03],[.16,-.05],[.25,-.03],[.31,-.05],[-.27,-.1],[-.17,-.09],[-.06,-.11],[.04,-.09],[.13,-.11],[.22,-.09],[-.08,-.15],[.03,-.14],[.11,-.15],[.06,-.06],[-.1,.06],[.1,.06]];
const naLoops=[
[[-2.43,-.07],[-2.35,.01],[-2.13,.15],[-1.97,.19],[-1.72,.11],[-1.45,.14],[-1.3,.29],[-1.18,.34],[-.82,.36],[-.46,.32],[-.24,.18],[-.17,.08],[-.33,-.07],[-.53,-.3],[-.69,-.36],[-1,-.39],[-1.45,-.45],[-1.77,-.41],[-2.13,-.27],[-2.35,-.18]],
[[-2.22,-.06],[-2.1,.03],[-1.85,.08],[-1.5,.03],[-1.2,.06],[-1,.2],[-.7,.28],[-.45,.24],[-.3,.1],[-.45,-.1],[-.75,-.3],[-1.2,-.36],[-1.7,-.33],[-2.05,-.2]],
[[-2.12,-.06],[-2,.02],[-1.75,.04],[-1.4,0],[-1.1,.05],[-.85,.2],[-.55,.18],[-.4,.05],[-.55,-.1],[-.8,-.27],[-1.2,-.32],[-1.7,-.27],[-2,-.16]],
[[-2.05,-.06],[-1.9,.01],[-1.65,.01],[-1.35,-.04],[-1.05,-.02],[-.8,.12],[-.6,.1],[-.55,-.02],[-.8,-.22],[-1.2,-.3],[-1.65,-.23],[-1.95,-.13]],
[[-2,-.07],[-1.85,-.01],[-1.6,-.02],[-1.3,-.07],[-1,-.06],[-.78,.03],[-.65,.03],[-.75,-.12],[-1.2,-.27],[-1.6,-.2],[-1.9,-.12]],
[[-1.93,-.07],[-1.8,-.03],[-1.55,-.04],[-1.3,-.1],[-1,-.1],[-.85,-.1],[-1.2,-.24],[-1.55,-.16],[-1.85,-.11]],
[[-1.88,-.08],[-1.6,-.06],[-1.3,-.12],[-1.05,-.14],[-1.2,-.2],[-1.5,-.14],[-1.8,-.1]],
[[-1.85,-.09],[-1.6,-.08],[-1.4,-.12],[-1.55,-.12]]];

const alStars=[[-1.55,.27,.04],[-.81,.4,.04],[-1.09,.3,.04],[-.57,.3,.04],[-.39,.29,.04],[-1.12,.22,.04],[-.64,.17,.04],[-.31,.18,.04],[-1.29,.07,.2],[-.93,-.01,.04],[-1.18,-.08,.2],[-.64,-.08,.04],[-.73,.26,.04]];
const alPoints=[[.2,1.29],[-.27,1.29],[-.12,1.25],[-.19,1.23],[-.4,1.16],[-.04,1.16],[.1,1.13],[.12,1.07],[-.57,1],[-.41,1.06],[-.57,.64],[.06,-.24],[-.41,-.24],[.44,.02],[.37,.03],[.44,1.49],
[-.26,1.14],[-.12,1.12],[0,1.1],[.15,1.11],[-.35,1.03],[-.2,1.04],[-.08,1.02],[.05,1.03],[.14,.98],[-.45,.98],[-.3,.97],[-.16,.95],[-.03,.96],[.11,.9],[-.38,.88],[-.25,.86],[-.1,.89],[.03,.85],[.15,.83],[-.42,.8],[-.3,.78],[-.17,.8],[-.04,.77],[.08,.79],[.2,.77],[-.36,.7],[-.24,.72],[-.12,.69],[0,.71],[.12,.68],[.22,.7],[-.28,.62],[-.16,.63],[-.05,.6],[.07,.63],[.18,.61],[-.42,.5],[-.32,.54],[-.2,.55],[-.09,.53],[.03,.55],[.14,.53],[.23,.55],[-.48,.44],[-.37,.45],[-.25,.47],[-.13,.45],[-.02,.47],[.1,.44],[.2,.47],[.28,.42],[-.52,.35],[-.4,.37],[-.28,.38],[-.17,.36],[-.05,.39],[.06,.36],[.17,.38],[.27,.33],[-.36,.29],[-.24,.3],[-.12,.28],[0,.3],[.11,.28],[.22,.3],[.33,.26],[-.3,.21],[-.19,.22],[-.07,.2],[.05,.22],[.16,.2],[.26,.22],[-.28,.13],[-.16,.14],[-.04,.12],[.08,.14],[.2,.12],[.3,.13],[-.34,.05],[-.22,.06],[-.1,.04],[.02,.06],[.14,.04],[.25,.06],[-.4,-.02],[-.28,-.01],[-.16,-.03],[-.04,-.01],[.08,-.03],[.2,-.01],[.28,0],[-.36,-.09],[-.24,-.08],[-.12,-.1],[0,-.08],[.12,-.09],[-.3,-.15],[-.2,-.16],[-.45,-.13],[-.1,-.17]];
const alLoops=[
[[-2.44,.05],[-2.3,.18],[-2.08,.26],[-1.81,.27],[-1.36,.29],[-1.18,.43],[-.86,.56],[-.59,.53],[-.28,.43],[-.17,.32],[-.24,.04],[-.41,-.3],[-.5,-.38],[-.73,-.38],[-1.13,-.3],[-1.49,-.21],[-1.9,-.14],[-2.3,-.04]],
[[-2.25,.03],[-2.15,.13],[-1.9,.18],[-1.5,.17],[-1.25,.2],[-1,.38],[-.7,.45],[-.45,.42],[-.3,.28],[-.33,.1],[-.5,-.1],[-.7,-.2],[-1.2,-.22],[-1.7,-.13],[-2.1,-.04]],
[[-2.2,.03],[-2.1,.1],[-1.8,.12],[-1.4,.1],[-1.15,.15],[-.95,.25],[-.7,.35],[-.5,.3],[-.45,.15],[-.6,-.05],[-.8,-.17],[-1.2,-.2],[-1.7,-.1],[-2.05,-.02]],
[[-2.13,.03],[-2,.09],[-1.7,.1],[-1.35,.06],[-1.1,.08],[-.85,.15],[-.65,.18],[-.58,.03],[-.78,-.12],[-1.2,-.17],[-1.7,-.07],[-2,-.01]],
[[-2.08,.03],[-1.95,.07],[-1.65,.08],[-1.3,.04],[-1.05,.03],[-.85,.05],[-.72,.03],[-.85,-.1],[-1.2,-.14],[-1.65,-.05],[-1.95,-.01]],
[[-2.02,.03],[-1.9,.06],[-1.6,.06],[-1.3,.02],[-1,-.02],[-.88,-.05],[-1.2,-.12],[-1.6,-.03],[-1.9,0]],
[[-1.97,.03],[-1.8,.05],[-1.5,.04],[-1.2,-.02],[-1,-.06],[-1.2,-.09],[-1.5,-.03],[-1.85,.01]],
[[-1.9,.02],[-1.7,.03],[-1.45,.02],[-1.3,-.03],[-1.5,-.03],[-1.8,0]]];

const scStars=[[-1.6,.13,.04],[-1.3,.12,.04],[-1.15,.14,.04],[-.95,.12,.04],[-.8,.13,.04],[-.55,.13,.04],[-.45,.1,.04],[-.6,.07,.04],[-.75,.1,.04],[-1.05,.1,.04],[-1.4,.1,.04],[-1.25,.08,.04],[-.35,.04,.04],[-.3,-.07,.04],[-1.55,-.1,.04],[-1.27,-.12,.04],[-1.5,.13,.04]];
const scPoints=[[-.2,.88],[0,.82],[.4,.94],[-.16,.74],[-.07,.58],[.16,.67],[-.97,-.16],[-.8,-.17],[.4,.3],[.24,.31],[.13,.31],[.02,.32],[-.1,.28],[-.18,.25],[-.03,.23],[.08,.25],[.18,.24],[.28,.25],[-.24,.18],[-.13,.18],[-.03,.16],[.08,.18],[.18,.16],[.28,.17],[-.33,.1],[-.22,.11],[-.12,.09],[-.01,.11],[.09,.09],[.2,.11],[.29,.09],[-.36,.03],[-.26,.02],[-.15,.04],[-.04,.02],[.06,.04],[.16,.02],[.26,.03],[-.38,-.04],[-.28,-.05],[-.17,-.03],[-.07,-.05],[.03,-.03],[.13,-.05],[.23,-.04],[.3,-.05],[-.35,-.11],[-.24,-.1],[-.14,-.12],[-.04,-.1],[.06,-.12],[.16,-.1],[.26,-.11],[-.38,-.17],[-.28,-.18],[-.18,-.16],[-.08,-.18],[.02,-.16],[.12,-.18],[.22,-.17],[-.3,-.24],[-.2,-.22],[-.1,-.24],[0,-.22],[.1,-.23],[-.5,-.1],[-.1,.04],[.1,-.08],[-.2,-.07],[.04,.08]];
const scLoops=[
[[-2.45,.1],[-2.3,.17],[-1.8,.2],[-1.3,.2],[-1,.3],[-.7,.36],[-.4,.3],[-.25,.15],[-.2,-.02],[-.3,-.18],[-.55,-.22],[-.9,-.15],[-1.5,-.07],[-2.1,.01]],
[[-2.2,.1],[-2,.15],[-1.5,.17],[-1.1,.2],[-.8,.27],[-.5,.22],[-.35,.1],[-.4,-.08],[-.7,-.13],[-1.2,-.08],[-1.8,.02]],
[[-2.05,.1],[-1.8,.14],[-1.4,.14],[-1,.15],[-.7,.17],[-.5,.1],[-.6,-.05],[-1,-.06],[-1.5,-.01],[-1.9,.05]],
[[-2,.1],[-1.7,.13],[-1.3,.12],[-.9,.1],[-.65,.07],[-.8,-.02],[-1.2,-.03],[-1.7,.02],[-1.9,.06]],
[[-1.95,.1],[-1.65,.12],[-1.3,.1],[-.95,.05],[-.85,.01],[-1.2,0],[-1.6,.04]],
[[-1.88,.1],[-1.6,.11],[-1.3,.08],[-1.1,.03],[-1.4,.03],[-1.7,.06]],
[[-1.8,.09],[-1.55,.1],[-1.35,.06],[-1.55,.05]]];

const vStars=[[-1.64,.59,.2],[-1.45,.64,.2],[-1.23,.48,.04],[-.81,.4,.04],[-.62,.28,.04],[-.38,.36,.04],[-.36,.23,.04],[-1.56,.23,.04],[-1.43,.13,.04],[-1.61,.06,.04],[-1.07,.15,.04],[-.8,.22,.04],[-1.45,-.18,.2],[-1.23,.19,.04]];
const vPoints=[[.26,.4],[.45,-.03],[.44,-.39],[.3,-.02],[-.6,.15],[-.54,.22],[-.48,.1],[-.42,.28],[-.36,.15],[-.5,.02],[-.42,.04],[-.32,.1],[-.22,.2],[-.12,.15],[-.02,.18],[.08,.16],[-.35,.02],[-.27,.05],[-.18,.08],[-.08,.09],[.02,.1],[.12,.08],[.2,.1],[.28,.07],[-.32,-.05],[-.24,-.03],[-.15,0],[-.05,.02],[.05,.03],[.14,.01],[.23,.03],[.3,0],[-.28,-.1],[-.2,-.08],[-.11,-.06],[-.01,-.05],[.08,-.04],[.17,-.06],[.26,-.04],[-.22,-.14],[-.13,-.12],[-.04,-.11],[.05,-.1],[.14,-.11],[.22,-.1],[-.1,-.17],[0,-.16],[.09,-.16],[.17,-.15],[-.04,-.21],[.05,-.21],[-.08,.04],[.1,.04],[-.03,-.03],[.12,-.08]];
const vLoops=[
[[-2.47,-.2],[-2.35,0],[-2,.2],[-1.6,.4],[-1.2,.68],[-.8,.83],[-.4,.82],[-.32,.6],[-.45,.35],[-.45,.1],[-.6,-.1],[-1,-.18],[-1.3,-.28],[-1.7,-.42],[-2.2,-.42]],
[[-2.3,-.2],[-2.2,-.03],[-1.9,.13],[-1.5,.33],[-1.15,.6],[-.8,.75],[-.5,.72],[-.42,.55],[-.55,.3],[-.7,.05],[-1,-.1],[-1.4,-.22],[-1.8,-.35],[-2.15,-.35]],
[[-2.2,-.2],[-2.1,-.05],[-1.85,.08],[-1.45,.28],[-1.1,.55],[-.8,.67],[-.55,.63],[-.53,.48],[-.7,.25],[-.9,.05],[-1.3,-.13],[-1.8,-.3],[-2.1,-.3]],
[[-2.12,-.2],[-2,-.07],[-1.75,.03],[-1.4,.22],[-1.05,.48],[-.8,.6],[-.62,.57],[-.65,.42],[-.85,.2],[-1.1,.03],[-1.5,-.12],[-1.85,-.26]],
[[-2.05,-.2],[-1.9,-.08],[-1.65,0],[-1.3,.17],[-1,.42],[-.8,.53],[-.7,.5],[-.8,.33],[-1.05,.1],[-1.4,-.07],[-1.85,-.23]],
[[-2,-.19],[-1.85,-.1],[-1.6,-.03],[-1.35,.05],[-1.45,-.05],[-1.8,-.2]],
[[-1.97,-.18],[-1.8,-.11],[-1.6,-.08],[-1.75,-.17]],
[[-1.05,.33],[-.88,.47],[-.75,.47],[-.85,.32],[-1,.2]]];

const cuStars=[[-1.29,-.13,.19],[-1.4,-.42,.2],[-1.56,-.47,.2],[-1.29,-.54,.2],[-1.13,-.42,.2],[-1.19,-.62,.2],[-.95,-.66,.04],[-.64,-.65,.04],[-.82,-.47,.04],[-.59,-.42,.04],[-.73,-.22,.04],[-.57,-.19,.04],[-.64,-.27,.04],[-.39,-.28,.04],[-.34,-.39,.04]];
const cuPoints=[[.23,.68],[-.2,.53],[.17,.54],[.15,.51],[-.13,.47],[-.3,.4],[.44,.16],[.39,.12],[.43,-.04],[.26,-.13],[-.01,-.15],[-.13,-.23],[-.27,-.18],[.09,-.43],[-.98,.03],[-.55,.3],[-.73,.19],
[-.05,.45],[.08,.46],[.18,.44],[-.2,.4],[-.08,.38],[.03,.4],[.14,.38],[.22,.37],[-.38,.33],[-.27,.33],[-.15,.31],[-.04,.33],[.07,.31],[.17,.32],[.25,.3],[-.48,.25],[-.36,.26],[-.24,.24],[-.12,.26],[-.01,.24],[.1,.26],[.2,.24],[.3,.22],[-.62,.17],[-.5,.18],[-.38,.16],[-.26,.18],[-.14,.16],[-.03,.18],[.08,.16],[.19,.18],[.29,.15],[-.7,.09],[-.55,.1],[-.42,.09],[-.3,.1],[-.18,.08],[-.06,.1],[.05,.08],[.16,.1],[.27,.08],[.33,.1],[-.48,.02],[-.36,.03],[-.24,.01],[-.12,.03],[0,.01],[.11,.03],[.22,.01],[.3,.03],[-.38,-.05],[-.26,-.04],[-.14,-.06],[-.02,-.04],[.09,-.06],[.2,-.04],[-.3,-.11],[-.16,-.1],[-.05,-.12],[.07,-.1],[.17,-.11]];
const cuLoops=[
[[-2.37,-.55],[-2.23,-.35],[-1.92,-.28],[-1.6,-.3],[-1.25,-.27],[-1.07,-.1],[-.84,.18],[-.53,.27],[-.3,.23],[-.21,.09],[-.3,-.08],[-.44,-.24],[-.39,-.58],[-.57,-.72],[-.93,-.8],[-1.43,-.89],[-1.74,-.86],[-2.14,-.75]],
[[-2.2,-.55],[-2.1,-.42],[-1.85,-.35],[-1.5,-.38],[-1.2,-.35],[-1,-.15],[-.8,.1],[-.55,.2],[-.38,.15],[-.3,.02],[-.42,-.15],[-.6,-.35],[-.65,-.55],[-.85,-.72],[-1.35,-.83],[-1.8,-.77],[-2.1,-.66]],
[[-2.1,-.55],[-2,-.45],[-1.8,-.4],[-1.45,-.42],[-1.15,-.38],[-.95,-.15],[-.77,.05],[-.58,.12],[-.42,.08],[-.4,-.05],[-.55,-.22],[-.72,-.45],[-.85,-.65],[-1.3,-.78],[-1.75,-.72],[-2.02,-.63]],
[[-2.03,-.55],[-1.9,-.47],[-1.7,-.44],[-1.4,-.47],[-1.1,-.4],[-.9,-.12],[-.73,.02],[-.57,.05],[-.48,-.02],[-.6,-.2],[-.8,-.45],[-1,-.65],[-1.3,-.73],[-1.7,-.68],[-1.95,-.61]],
[[-1.97,-.55],[-1.8,-.5],[-1.6,-.47],[-1.35,-.5],[-1.05,-.4],[-.85,-.1],[-.7,-.02],[-.58,-.02],[-.62,-.15],[-.85,-.4],[-1.05,-.6],[-1.3,-.68],[-1.65,-.63],[-1.9,-.58]],
[[-1.9,-.57],[-1.7,-.52],[-1.4,-.53],[-1.1,-.48],[-.95,-.35],[-.85,-.3],[-.98,-.53],[-1.3,-.64],[-1.6,-.6]],
[[-1.75,-.56],[-1.5,-.55],[-1.25,-.56],[-1.1,-.57],[-1.3,-.6],[-1.55,-.58]],
[[-.7,-.02],[-.62,0],[-.6,-.08],[-.68,-.1]]];

const panelNames=["Mg","Si","Ca","Ti","Cr","Mn","Co","Ni","Y","Ba","Na","Al","Sc","V","Cu"];
const panelStars=[mgStars,siStars,caStars,tiStars,crStars,mnStars,coStars,niStars,yStars,baStars,naStars,alStars,scStars,vStars,cuStars];
const panelPoints=[mgPoints,siPoints,caPoints,tiPoints,crPoints,mnPoints,coPoints,niPoints,yPoints,baPoints,naPoints,alPoints,scPoints,vPoints,cuPoints];
const panelLoops=[mgLoops,siLoops,caLoops,tiLoops,crLoops,mnLoops,coLoops,niLoops,yLoops,baLoops,naLoops,alLoops,scLoops,vLoops,cuLoops];

const NS="http://www.w3.org/2000/svg";
const svg=document.getElementById("chart");
const defs=document.getElementById("defs");
const xDomain=[-2.8,1],yDomain=[-.9,1.5];
const panelLefts=[67,349,631,913],panelTops=[8,295,582,869],panelW=282,panelH=287;
const starRadius=14.3;

function make(tag,parent,geom){
  const el=document.createElementNS(NS,tag);
  for(const k in geom) el.setAttribute(k,geom[k]);
  parent.appendChild(el);
  return el;
}
function starPath(cx,cy,R){
  const r=R*.382;let d="";
  for(let i=0;i<10;i++){
    const a=-Math.PI/2+i*Math.PI/5,q=i%2?r:R;
    d+=(i?"L":"M")+(cx+q*Math.cos(a)).toFixed(1)+" "+(cy+q*Math.sin(a)).toFixed(1);
  }
  return d+"Z";
}
function smoothClosed(p){
  const n=p.length;
  let d="M"+p[0][0].toFixed(1)+" "+p[0][1].toFixed(1);
  for(let i=0;i<n;i++){
    const a=p[(i-1+n)%n],b=p[i],c=p[(i+1)%n],e=p[(i+2)%n];
    d+="C"+(b[0]+(c[0]-a[0])/6).toFixed(1)+" "+(b[1]+(c[1]-a[1])/6).toFixed(1)+" "+(c[0]-(e[0]-b[0])/6).toFixed(1)+" "+(c[1]-(e[1]-b[1])/6).toFixed(1)+" "+c[0].toFixed(1)+" "+c[1].toFixed(1);
  }
  return d+"Z";
}

panelNames.forEach(function(name,idx){
  const col=idx%4,row=Math.floor(idx/4);
  const L=panelLefts[col],T=panelTops[row],W=col===3?283:panelW,H=panelH;
  const xs=v=>L+(v-xDomain[0])/(xDomain[1]-xDomain[0])*W;
  const ys=v=>T+(yDomain[1]-v)/(yDomain[1]-yDomain[0])*H;
  const key=name.toLowerCase();

  const g=make("g",svg,{});
  
  

  const clip=make("clipPath",defs,{id:"clip"+idx});
  make("rect",clip,{x:L,y:T,width:W,height:H});

  const marks=make("g",g,{"clip-path":"url(#clip"+idx+")"});
  
  

  const pixelPts=panelPoints[idx].map(p=>[xs(p[0]),ys(p[1])]);
  pixelPts.forEach(function(p){
    let near=0;
    pixelPts.forEach(function(q){
      const dx=p[0]-q[0],dy=p[1]-q[1];
      if(dx*dx+dy*dy<196) near++;
    });
    const alpha=Math.min(.9,.5+.045*(near-1));
    const c=make("circle",marks,{cx:p[0].toFixed(1),cy:p[1].toFixed(1),r:6.6,fill:"rgba(0,92,86,"+alpha.toFixed(2)+")",stroke:"rgba(0,60,56,.45)","stroke-width":.7});
    
    
  });
  panelLoops[idx].forEach(function(loop){
    const path=make("path",marks,{d:smoothClosed(loop.map(q=>[xs(q[0]),ys(q[1])])),fill:"none",stroke:"#2a2a2a","stroke-width":.95});
    
    
  });
  panelStars[idx].forEach(function(s){
    const bar=make("line",marks,{x1:xs(s[0]).toFixed(1),x2:xs(s[0]).toFixed(1),y1:ys(s[1]+s[2]).toFixed(1),y2:ys(s[1]-s[2]).toFixed(1),stroke:"#1ca7ec","stroke-width":3.4});
    
    
  });
  panelStars[idx].forEach(function(s){
    const st=make("path",marks,{d:starPath(xs(s[0]),ys(s[1]),starRadius),fill:"#0f9ae8",stroke:"#000","stroke-width":1.7,"stroke-linejoin":"miter"});
    
    
  });

  const frame=make("rect",g,{x:L,y:T,width:W,height:H,fill:"none",stroke:"#5a5a5a","stroke-width":1.2});
  
  

  xMajorTicks.forEach(function(v,i){
    const t=make("line",g,{x1:xs(v).toFixed(1),x2:xs(v).toFixed(1),y1:T+H,y2:T+H-12,stroke:"#000","stroke-width":2.2});
    
    
    if(row===3||(row===2&&col===3)){
      const lab=make("text",g,{x:xs(v).toFixed(1),y:T+H+17,"text-anchor":"middle","font-size":21,fill:"#111"});
      lab.textContent=xTickLabels[i];
      
      
    }
  });
  xMinorTicks.forEach(function(v){
    const t=make("line",g,{x1:xs(v).toFixed(1),x2:xs(v).toFixed(1),y1:T+H,y2:T+H-10,stroke:"#000","stroke-width":1.2});
    
    
  });
  yMajorTicks.forEach(function(v,i){
    const t=make("line",g,{x1:L,x2:L+11,y1:ys(v).toFixed(1),y2:ys(v).toFixed(1),stroke:"#000","stroke-width":2.2});
    
    
    if(col===0){
      const lab=make("text",g,{x:L-4,y:(ys(v)+7).toFixed(1),"text-anchor":"end","font-size":21,fill:"#111"});
      lab.textContent=yTickLabels[i];
      
      
    }
  });
  yMinorTicks.forEach(function(v){
    const t=make("line",g,{x1:L,x2:L+7,y1:ys(v).toFixed(1),y2:ys(v).toFixed(1),stroke:"#000","stroke-width":1.2});
    
    
  });

  const title=make("text",g,{x:L+22,y:T+31,"font-size":22,fill:"#111"});
  title.textContent="["+name+"/Fe]";
  
  

  if(col===0){
    const yt=make("text",g,{x:0,y:0,transform:"translate(21 "+(T+H/2)+") rotate(-90)","text-anchor":"middle","font-size":22,fill:"#111"});
    yt.textContent="[X/Fe]";
    
    
  }
  if(row===3||(row===2&&col===3)){
    const xt=make("text",g,{x:L+W/2,y:T+H+39,"text-anchor":"middle","font-size":22,fill:"#111"});
    xt.textContent="[Fe/H]";
    
    
  }
});

const legend=make("g",svg,{});


const legendBox=make("rect",legend,{x:769.5,y:877.5,width:135,height:76,rx:3,fill:"rgba(255,255,255,.85)",stroke:"#e6e6e6","stroke-width":1});


const legendDot=make("circle",legend,{cx:793,cy:892,r:6.6,fill:"rgba(0,92,86,.5)"});


const legendLine=make("line",legend,{x1:776,x2:810,y1:914,y2:914,stroke:"#2a2a2a","stroke-width":1});


const legendStar=make("path",legend,{d:starPath(793,938,starRadius),fill:"#0f9ae8",stroke:"#000","stroke-width":1.7});


const legendText1=make("text",legend,{x:824,y:896,"font-size":16.5,fill:"#111"});
legendText1.textContent="Prograde";


const legendText2=make("text",legend,{x:824,y:920,"font-size":16.5,fill:"#111"});
legendText2.textContent="Retrograde";


const legendText3=make("text",legend,{x:824,y:943,"font-size":16.5,fill:"#111"});
legendText3.textContent="This work";


</script>
</body>
</html>
